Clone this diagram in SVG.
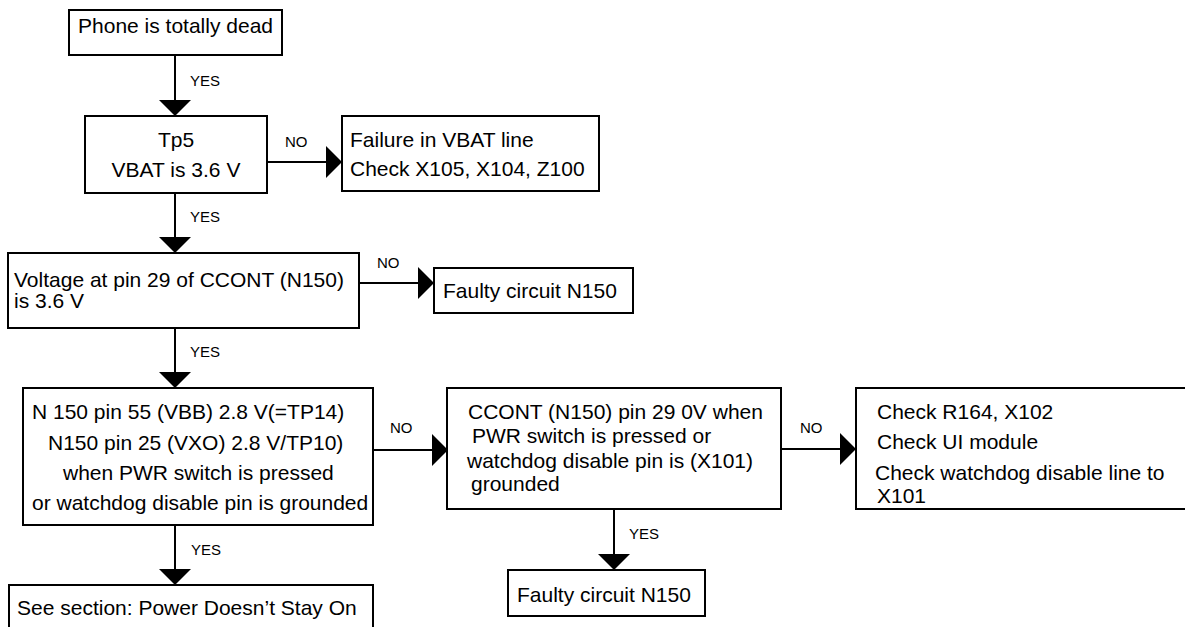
<svg xmlns="http://www.w3.org/2000/svg" width="1185" height="627" viewBox="0 0 1185 627">
<style>
.box{fill:#fff;stroke:#000;stroke-width:2}
.t{font-family:"Liberation Sans",Arial,sans-serif;font-size:21px;fill:#000}
.c{text-anchor:middle}
.lbl{font-family:"Liberation Sans",Arial,sans-serif;font-size:15px;fill:#000}
.ln{stroke:#000;stroke-width:2;fill:none;marker-end:url(#ah)}
</style>
<defs>
<marker id="ah" viewBox="0 0 16 32" refX="16" refY="16" markerWidth="16" markerHeight="32" markerUnits="userSpaceOnUse" orient="auto">
<path d="M0,0 L16,16 L0,32 Z" fill="#000"/>
</marker>
</defs>
<rect width="1185" height="627" fill="#fff"/>
<g id="connectors">
<line class="ln" x1="175" y1="55" x2="175" y2="116"/>
<text class="lbl" x="190" y="86">YES</text>
<line class="ln" x1="267" y1="162" x2="342" y2="162"/>
<text class="lbl" x="285" y="147">NO</text>
<line class="ln" x1="175" y1="193" x2="175" y2="253"/>
<text class="lbl" x="190" y="222">YES</text>
<line class="ln" x1="359" y1="283" x2="434" y2="283"/>
<text class="lbl" x="377" y="268">NO</text>
<line class="ln" x1="175" y1="328" x2="175" y2="388"/>
<text class="lbl" x="190" y="357">YES</text>
<line class="ln" x1="373" y1="450" x2="448" y2="450"/>
<text class="lbl" x="390" y="433">NO</text>
<line class="ln" x1="175" y1="525" x2="175" y2="585"/>
<text class="lbl" x="191" y="555">YES</text>
<line class="ln" x1="781" y1="449" x2="856" y2="449"/>
<text class="lbl" x="800" y="433">NO</text>
<line class="ln" x1="614" y1="509" x2="614" y2="570"/>
<text class="lbl" x="629" y="539">YES</text>
</g>
<g id="n1">
<rect class="box" x="69" y="10" width="213" height="45"/>
<text class="t c" x="175.5" y="33">Phone is totally dead</text>
</g>
<g id="n2">
<rect class="box" x="85" y="116" width="182" height="77"/>
<text class="t c" x="176" y="147">Tp5</text>
<text class="t c" x="176" y="177">VBAT is 3.6 V</text>
</g>
<g id="n3">
<rect class="box" x="342" y="116" width="257" height="75"/>
<text class="t" x="350" y="147">Failure in VBAT line</text>
<text class="t" x="350" y="176">Check X105, X104, Z100</text>
</g>
<g id="n4">
<rect class="box" x="8" y="253" width="351" height="75"/>
<text class="t" x="14" y="287">Voltage at pin 29 of CCONT (N150)</text>
<text class="t" x="14" y="308">is 3.6 V</text>
</g>
<g id="n5">
<rect class="box" x="434" y="268" width="199" height="45"/>
<text class="t" x="443" y="298">Faulty circuit N150</text>
</g>
<g id="n6">
<rect class="box" x="23" y="388" width="350" height="137"/>
<text class="t" x="32" y="419">N 150 pin 55 (VBB) 2.8 V(=TP14)</text>
<text class="t" x="48" y="450">N150 pin 25 (VXO) 2.8 V/TP10)</text>
<text class="t" x="63" y="480">when PWR switch is pressed</text>
<text class="t" x="32" y="510">or watchdog disable pin is grounded</text>
</g>
<g id="n7">
<rect class="box" x="9" y="585" width="364" height="60"/>
<text class="t" x="17" y="615">See section: Power Doesn’t Stay On</text>
</g>
<g id="n8">
<rect class="box" x="447" y="388" width="334" height="121"/>
<text class="t" x="468" y="419">CCONT (N150) pin 29 0V when</text>
<text class="t" x="472" y="443">PWR switch is pressed or</text>
<text class="t" x="467" y="468">watchdog disable pin is (X101)</text>
<text class="t" x="471" y="491">grounded</text>
</g>
<g id="n9">
<rect class="box" x="508" y="570" width="197" height="46"/>
<text class="t" x="517" y="602">Faulty circuit N150</text>
</g>
<g id="n10">
<rect class="box" x="856" y="388" width="340" height="121"/>
<text class="t" x="877" y="419">Check R164, X102</text>
<text class="t" x="877" y="449">Check UI module</text>
<text class="t" x="875" y="480">Check watchdog disable line to</text>
<text class="t" x="877" y="503">X101</text>
</g>
</svg>
